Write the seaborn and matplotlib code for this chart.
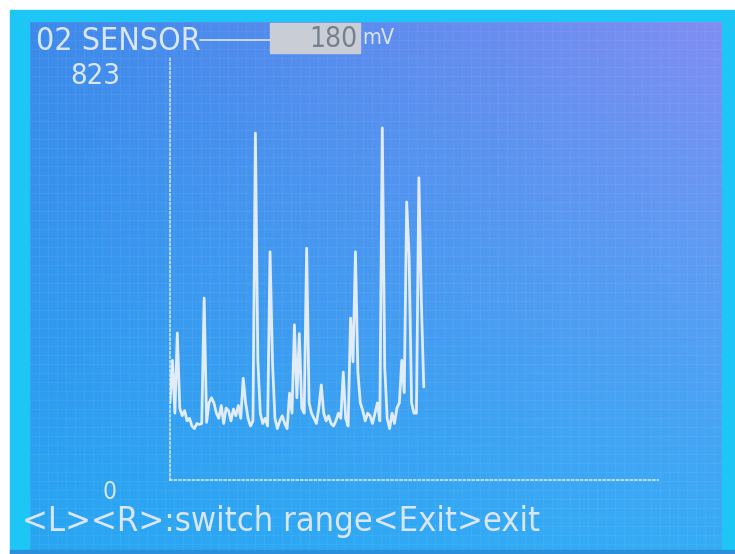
import numpy as np
import pandas as pd
import matplotlib
matplotlib.use('Agg')
import matplotlib.pyplot as plt
from matplotlib import font_manager as fm
from matplotlib.patches import Rectangle
import seaborn as sns

# O2 sensor trace (mV), one value per sample
o2_mv = [150, 233, 130, 286, 140, 125, 135, 115, 120, 105,
         100, 110, 108, 110, 354, 112, 150, 160, 150, 130,
         120, 145, 110, 140, 135, 115, 138, 125, 145, 120,
         198, 150, 120, 105, 115, 675, 233, 130, 110, 120,
         105, 444, 230, 120, 100, 115, 125, 110, 100, 169,
         130, 302, 160, 285, 140, 130, 451, 150, 130, 120,
         110, 140, 185, 130, 115, 125, 110, 105, 115, 130,
         120, 210, 120, 105, 315, 230, 444, 210, 150, 135,
         115, 130, 125, 110, 130, 150, 115, 685, 220, 120,
         100, 130, 110, 140, 150, 233, 170, 541, 434, 150,
         130, 130, 588, 350, 181]
y_max = 823
y_min = 0
n_samples = 200
cursor_mv = 180

title_text = '02 SENSOR'
footer_text = '<L><R>:switch range<Exit>exit'

TXT = '#dbe6f4'

sns.set_style('white')

# pick a narrow face if one is installed
names = {(f.name, f.stretch) for f in fm.fontManager.ttflist}
if any(n == 'Liberation Sans Narrow' for n, s in names):
    FONT, STRETCH = ['Liberation Sans Narrow', 'DejaVu Sans'], 'normal'
elif ('DejaVu Sans', 'condensed') in names:
    FONT, STRETCH = ['DejaVu Sans', 'Liberation Sans'], 'condensed'
else:
    FONT, STRETCH = ['Liberation Sans', 'DejaVu Sans'], 'normal'
plt.rcParams['font.family'] = FONT

fig = plt.figure(figsize=(7.35, 5.54), dpi=100)

# background: photo border + blue LCD gradient
bg = fig.add_axes([0, 0, 1, 1])
bg.set_xlim(0, 735)
bg.set_ylim(554, 0)
bg.axis('off')
h, w = 200, 200
tl = np.array([0x3c, 0x8a, 0xea]) / 255
tr = np.array([0x80, 0x8e, 0xf2]) / 255
bl = np.array([0x28, 0xa6, 0xf2]) / 255
br = np.array([0x36, 0xac, 0xf6]) / 255
u = np.linspace(0, 1, w)[None, :, None]
v = np.linspace(0, 1, h)[:, None, None]
grad = (1 - v) * ((1 - u) * tl + u * tr) + v * ((1 - u) * bl + u * br)
bg.add_patch(Rectangle((0, 0), 735, 554, color='white'))
bg.add_patch(Rectangle((10, 10), 725, 544, color='#1ec6f6'))
bg.imshow(grad, extent=(30, 722, 550, 22), aspect='auto', zorder=1)
bg.add_patch(Rectangle((10, 550), 725, 4, color='#2a90dc', zorder=2))
# faint LCD pixel grid
for gx in np.arange(30, 722, 9):
    bg.plot([gx, gx], [22, 550], color='white', alpha=0.05, lw=0.8, zorder=2)
for gy in np.arange(22, 550, 9):
    bg.plot([30, 722], [gy, gy], color='white', alpha=0.05, lw=0.8, zorder=2)


def lcd_text(x, y, s, width, size=30, **kw):
    t = bg.text(x, y, s, fontsize=size, fontstretch=STRETCH, va='center', zorder=6, **kw)
    # shrink until the label spans the measured width
    fig.canvas.draw()
    px = t.get_window_extent().width
    if px > width:
        t.set_fontsize(size * width / px)
    return t


# header
bg.plot([200, 270], [40, 40], color=TXT, lw=1.2, zorder=5)
lcd_text(36, 42, title_text, 165, color=TXT, ha='left')
lcd_text(70, 76, str(y_max), 50, color=TXT, ha='left')
bg.add_patch(Rectangle((270, 23), 90, 30, color='#c9ced6', zorder=5))
lcd_text(357, 39, str(cursor_mv), 48, color='#76808e', ha='right')
lcd_text(362, 38, 'mV', 32, color=TXT, ha='left')

# footer
lcd_text(103, 492, str(y_min), 14, color=TXT, ha='left')
lcd_text(22, 522, footer_text, 518, color=TXT, ha='left')

# plot area
ax = fig.add_axes([170 / 735, 1 - 480 / 554, 488 / 735, 423 / 554])
ax.patch.set_alpha(0)
df = pd.DataFrame({'sample': np.arange(len(o2_mv)), 'mV': o2_mv})
sns.lineplot(data=df, x='sample', y='mV', ax=ax, color='#e2ecf7', lw=2.0)
ax.set_xlim(0, n_samples)
ax.set_ylim(y_min, y_max)
ax.set_xticks([])
ax.set_yticks([])
ax.set_xlabel('')
ax.set_ylabel('')
for side in ['top', 'right']:
    ax.spines[side].set_visible(False)
for side in ['left', 'bottom']:
    ax.spines[side].set_color('#e4eef8')
    ax.spines[side].set_alpha(0.8)
    ax.spines[side].set_linewidth(1.3)
    ax.spines[side].set_linestyle((0, (1, 1.5)))

fig.savefig('out.png', dpi=100)
